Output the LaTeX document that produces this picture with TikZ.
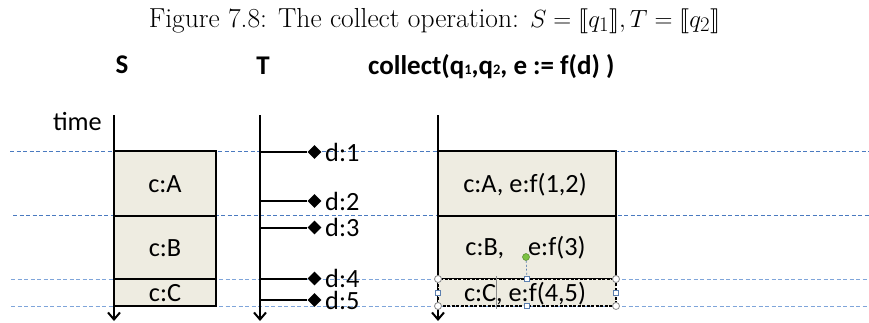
\documentclass[tikz,border=0pt]{standalone}
\usepackage{fontspec}
\usepackage{stmaryrd}
\usetikzlibrary{arrows.meta,shapes.geometric}
\newfontfamily\carlito{Carlito}
\definecolor{boxfill}{HTML}{EEECE1}
\definecolor{guide}{HTML}{4A7AC0}
\definecolor{guidelight}{HTML}{7FA5DA}
\definecolor{handle}{HTML}{8A8A8A}
\definecolor{hsq}{HTML}{5B7FAF}
\definecolor{rotg}{HTML}{7CC242}
\tikzset{
  axis/.style={line width=2pt,-{Straight Barb[length=7pt,width=12pt,line width=2pt]}},
  cell/.style={draw,line width=2pt,fill=boxfill},
  guideline/.style={draw=guide,line width=1pt,dash pattern=on 4pt off 2.5pt},
  lbl/.style={font=\carlito\fontsize{26.3}{30}\selectfont,inner sep=0pt},
  hdr/.style={font=\carlito\bfseries\fontsize{27}{32}\selectfont,inner sep=0pt},
  dia/.style={diamond,fill=black,inner sep=0pt,minimum size=14pt},
  branch/.style={line width=2pt},
  corner/.style={circle,draw=handle,fill=white,line width=0.8pt,inner sep=0pt,minimum size=7pt},
  edgeh/.style={rectangle,draw=hsq,fill=white,line width=0.8pt,inner sep=0pt,minimum size=5pt},
}
\begin{document}
\begin{tikzpicture}[x=1pt,y=-1pt]
\useasboundingbox (0,0) rectangle (869,322);
% caption
\node[anchor=base,inner sep=0pt,font=\fontsize{27.5}{32}\selectfont] (cap) at (434.5,27)
  {Figure 7.8: The collect operation: $S=\llbracket q_1\rrbracket, T=\llbracket q_2\rrbracket$};
% headers
\node[hdr,anchor=base] (hS) at (122,73) {S};
\node[hdr,anchor=base] (hT) at (263,74) {T};
\node[hdr,anchor=base west] (hC) at (368,74)
  {collect(q\raisebox{-0.5pt}{\fontsize{14.5}{16}\selectfont 1},q\raisebox{-0.5pt}{\fontsize{14.5}{16}\selectfont 2}, e := f(d) )};
% guide lines
\coordinate (g1a) at (10,151);   \coordinate (g1b) at (869,151);
\coordinate (g2a) at (13,215.5); \coordinate (g2b) at (869,215.5);
\coordinate (g3a) at (11,279);   \coordinate (g3b) at (869,279);
\coordinate (g4a) at (11,306);   \coordinate (g4b) at (869,306);
\draw[guideline] (g1a) -- (g1b);
\draw[guideline] (g2a) -- (g2b);
\draw[guideline,draw=guidelight] (g3a) -- (g3b);
\draw[guideline,draw=guidelight] (g4a) -- (g4b);
% time label
\node[lbl,anchor=base east] (time) at (102,130) {time};
% S column
\coordinate (sTop) at (114,115); \coordinate (sBot) at (114,321);
\draw[axis] (sTop) -- (sBot);
\draw[cell] (114,151) rectangle (216,215.5);
\draw[cell] (114,215.5) rectangle (216,279);
\draw[cell] (114,279) rectangle (216,306);
\node[lbl,anchor=base] (sA) at (165,192) {c:A};
\node[lbl,anchor=base] (sB) at (165,256) {c:B};
\node[lbl,anchor=base] (sC) at (165,301.5) {c:C};
% T column
\coordinate (tTop) at (260,115); \coordinate (tBot) at (260,321);
\draw[axis] (tTop) -- (tBot);
\foreach \i/\y in {1/152,2/201,3/227.5,4/278.5,5/300}{
  \coordinate (t\i) at (260,\y);
  \node[dia] (d\i) at (314.5,\y) {};
  \draw[branch] (t\i) -- (d\i.west);
  \node[lbl,anchor=base west] (dl\i) at (325,\y+9) {d:\i};
}
% collect column
\coordinate (cTop) at (438,115); \coordinate (cBot) at (438,321);
\draw[axis] (cTop) -- (cBot);
\draw[cell] (438,151) rectangle (616,215.5);
\draw[cell] (438,215.5) rectangle (616,279);
\draw[fill=boxfill,line width=1.5pt,dash pattern=on 3pt off 1.5pt] (438,279) rectangle (616,306);
\node[lbl,anchor=base] (cA) at (525,192) {c:A, e:f(1,2)};
\node[lbl,anchor=base] (cB) at (525.5,255.5) {c:B,\hspace{24pt}e:f(3)};
\node[lbl,anchor=base] (cC) at (525,301.5) {c:C, e:f(4,5)};
% selection artefacts
\draw[handle,line width=1pt] (496,276) -- (496,309);
\node[circle,fill=rotg,draw=rotg!70!black,line width=0.5pt,inner sep=0pt,minimum size=7pt] (rot) at (526,257) {};
\node[edgeh] (hTopM) at (527,279) {};
\draw[hsq,line width=0.7pt,dash pattern=on 2pt off 2pt] (rot) -- (hTopM);
\node[edgeh] (hBotM) at (527,306) {};
\node[edgeh] (hLM) at (438,293) {};
\node[edgeh] (hRM) at (616,293) {};
\node[corner] (hTL) at (438,279) {};
\node[corner] (hTR) at (616,279) {};
\node[corner] (hBL) at (438,306) {};
\node[corner] (hBR) at (616,306) {};
\end{tikzpicture}
\end{document}
